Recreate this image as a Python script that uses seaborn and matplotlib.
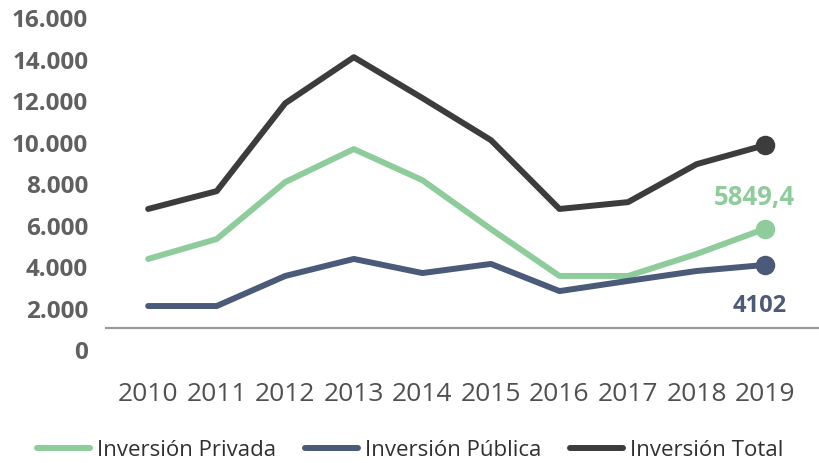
import pandas as pd
import seaborn as sns
import matplotlib.pyplot as plt

years = [2010, 2011, 2012, 2013, 2014, 2015, 2016, 2017, 2018, 2019]
privada = [4390, 5350, 8100, 9690, 8190, 5830, 3570, 3570, 4630, 5849.4]
publica = [2120, 2120, 3570, 4390, 3710, 4150, 2840, 3330, 3810, 4102]
total = [6800, 7660, 11900, 14120, 12150, 10120, 6800, 7130, 8960, 9880]
series_names = ["Inversión Privada", "Inversión Pública", "Inversión Total"]
yticks = [0, 2000, 4000, 6000, 8000, 10000, 12000, 14000, 16000]
ytick_labels = ["0", "2.000", "4.000", "6.000", "8.000", "10.000", "12.000", "14.000", "16.000"]

colors = ["#8fcc9c", "#4a5a78", "#3c3c3c"]

df = pd.DataFrame({
    "year": years * 3,
    "value": privada + publica + total,
    "serie": [series_names[0]] * 10 + [series_names[1]] * 10 + [series_names[2]] * 10,
})

sns.set_style("white")
plt.rcParams['font.family'] = ['Open Sans', 'DejaVu Sans']

fig = plt.figure(figsize=(8.2, 4.63), dpi=100)
ax = fig.add_axes([0.128, 0.2225, 0.872, 0.7555])

sns.lineplot(data=df, x="year", y="value", hue="serie", palette=colors,
             linewidth=4.3, ax=ax, legend=False)

# end markers
for vals, c in zip([privada, publica, total], colors):
    ax.scatter([years[-1]], [vals[-1]], s=170, color=c, zorder=5)

ax.annotate("5849,4", (years[-1], privada[-1]), xytext=(-8, 13), textcoords="offset points",
            ha="center", va="bottom", color=colors[0], fontsize=18.5, fontweight="bold")
ax.annotate("4102", (years[-1], publica[-1]), xytext=(-4, -21), textcoords="offset points",
            ha="center", va="top", color=colors[1], fontsize=17, fontweight="bold")

ax.axhline(1060, color="#9a9a9a", linewidth=1.6, zorder=1)

ax.set_xlim(2009.37, 2019.8)
ax.set_ylim(-482, 16386)
ax.set_xticks(years)
ax.set_xticklabels([str(y) for y in years])
ax.set_yticks(yticks)
ax.set_yticklabels(ytick_labels)
ax.tick_params(axis="y", length=0, pad=12, labelsize=17.5, labelcolor="#606060")
ax.tick_params(axis="x", length=0, pad=16, labelsize=19, labelcolor="#505050")
for lab in ax.get_yticklabels():
    lab.set_fontweight("bold")
ax.set_xlabel("")
ax.set_ylabel("")
sns.despine(ax=ax, left=True, bottom=True)

handles = [plt.Line2D([0], [0], color=c, linewidth=4.3) for c in colors]
fig.legend(handles, series_names, loc="lower center", bbox_to_anchor=(0.5, -0.038),
           ncol=3, frameon=False, fontsize=16, handlelength=2.4, handletextpad=0.3,
           columnspacing=1.3, labelcolor="#303030")

fig.savefig("out.png", dpi=100)
